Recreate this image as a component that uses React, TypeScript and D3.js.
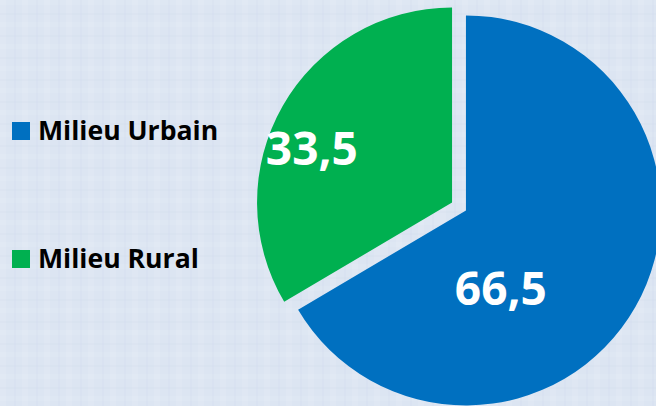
import React from "react";
import * as d3 from "d3";

const categories = ["Milieu Urbain", "Milieu Rural"];
const values = [66.5, 33.5];
const valueLabels = ["66,5", "33,5"];
const colors = ["#0070C0", "#00B050"];

// label placement inside the slices (angle in degrees, fraction of radius)
const labelAngles = [156, 291];
const labelRadii = [0.44, 0.77];

const W = 656;
const H = 406;
const cx = 459;
const cy = 206.5;
const radius = 195;
const explode = 8;

export default function App() {
  const pie = d3
    .pie<number>()
    .sort(null)
    .value((d) => d);
  const slices = pie(values);
  const arc = d3.arc<d3.PieArcDatum<number>>().innerRadius(0).outerRadius(radius);

  return (
    <div>
      <style>{`body{margin:0}`}</style>
      <svg width={W} height={H} style={{ display: "block" }}>
        <defs>
          <pattern id="bgGrid" width="22" height="22" patternUnits="userSpaceOnUse">
            <rect width="22" height="22" fill="#DCE5F2" />
            <rect x="0" y="0" width="6" height="22" fill="#ffffff" opacity="0.09" />
            <rect x="0" y="0" width="22" height="5" fill="#ffffff" opacity="0.07" />
            <rect x="14" y="0" width="2" height="22" fill="#cdd8ea" opacity="0.2" />
            <rect x="0" y="13" width="22" height="2" fill="#cdd8ea" opacity="0.18" />
          </pattern>
        </defs>
        <rect width={W} height={H} fill="url(#bgGrid)" />

        {slices.map((s, i) => {
          const mid = (s.startAngle + s.endAngle) / 2;
          const [ox, oy] = d3.pointRadial(mid, explode);
          const [lx, ly] = d3.pointRadial(
            (labelAngles[i] * Math.PI) / 180,
            labelRadii[i] * radius
          );
          return (
            <g key={categories[i]} transform={`translate(${cx + ox},${cy + oy})`}>
              <path d={arc(s) || ""} fill={colors[i]} />
              <text
                x={lx}
                y={ly + 16.5}
                textAnchor="middle"
                fill="#ffffff"
                fontFamily="'Open Sans', sans-serif"
                fontWeight={700}
                fontSize={46}
              >
                {valueLabels[i]}
              </text>
            </g>
          );
        })}

        {categories.map((c, i) => (
          <g key={c} transform={`translate(12,${122 + i * 128})`}>
            <rect width={18} height={18} fill={colors[i]} />
            <text
              x={26}
              y={18}
              fill="#000000"
              fontFamily="'Open Sans', sans-serif"
              fontWeight={700}
              fontSize={26.6}
            >
              {c}
            </text>
          </g>
        ))}
      </svg>
    </div>
  );
}
